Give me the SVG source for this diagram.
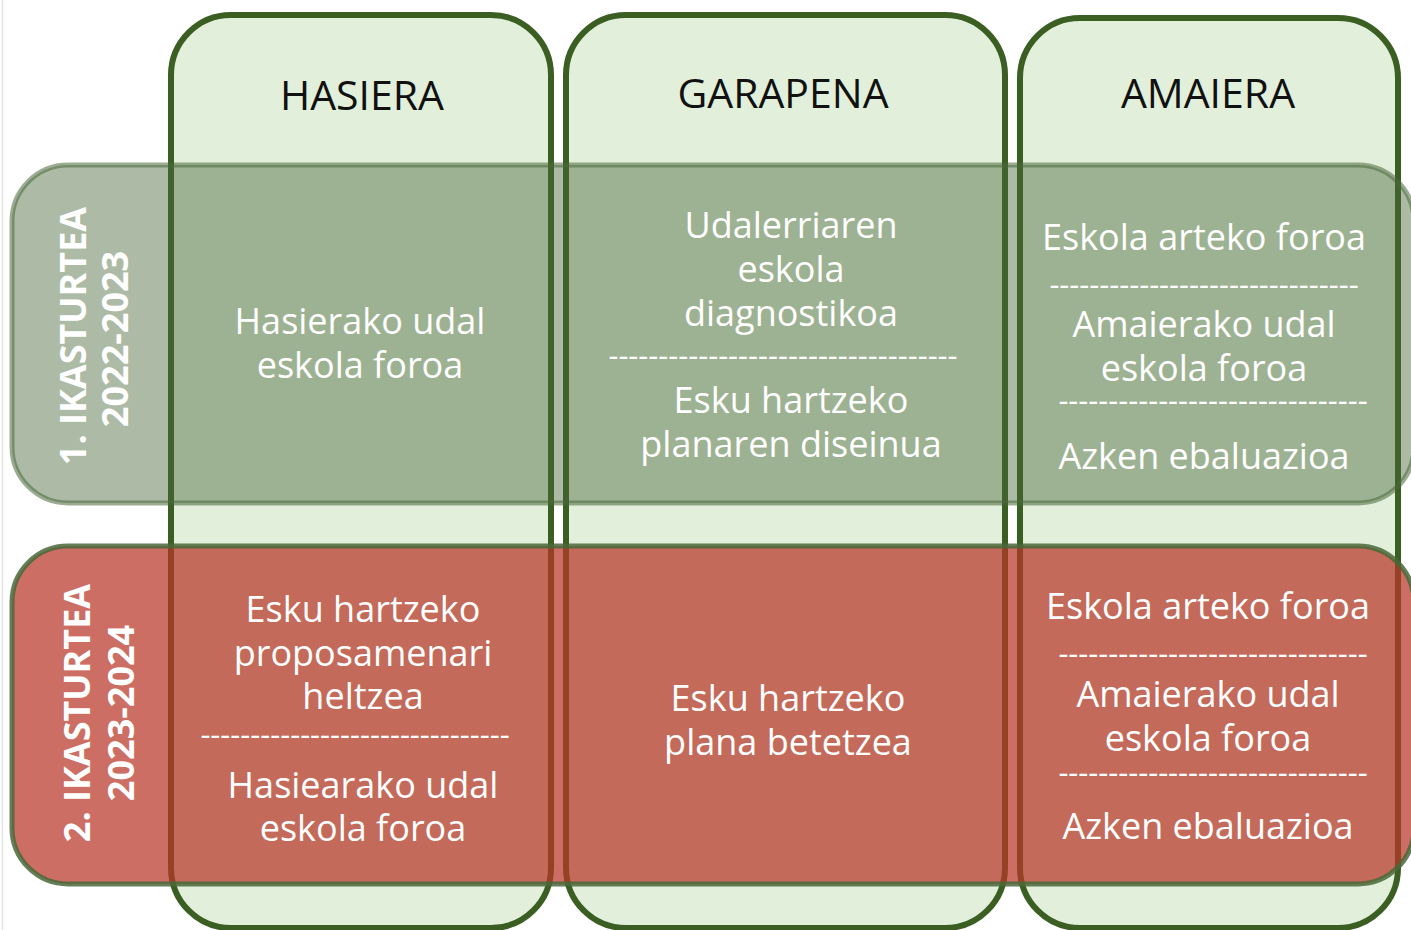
<svg xmlns="http://www.w3.org/2000/svg" width="1411" height="930" viewBox="0 0 1411 930">
  <style>
    .col { fill: #e2efda; stroke: #3b5e23; stroke-width: 6; }
    .row1 { fill: rgb(73,104,58); fill-opacity: 0.45; stroke: rgb(73,104,58); stroke-opacity: 0.55; stroke-width: 5; }
    .row2 { fill: rgb(185,54,40); fill-opacity: 0.72; stroke: rgb(73,104,58); stroke-opacity: 0.85; stroke-width: 5; }
    .hdr { font-family: "Open Sans", "Liberation Sans", sans-serif; font-size: 41px; fill: #111; text-anchor: middle; }
    .t { font-family: "Open Sans", "Liberation Sans", sans-serif; font-size: 36px; fill: #ffffff; text-anchor: middle; }
    .d { font-family: "Open Sans", "Liberation Sans", sans-serif; font-size: 31px; fill: #ffffff; text-anchor: middle; }
    .lbl { font-family: "Open Sans", "Liberation Sans", sans-serif; font-size: 36px; font-weight: bold; fill: #ffffff; text-anchor: middle; }
  </style>
  <rect x="0" y="0" width="1411" height="930" fill="#ffffff"/>
  <line x1="2.5" y1="0" x2="2.5" y2="930" stroke="#e4e4e4" stroke-width="1.5"/>

  <g id="col-hasiera">
    <rect class="col" x="171" y="15" width="380" height="913" rx="60"/>
    <text class="hdr" x="362" y="110">HASIERA</text>
  </g>
  <g id="col-garapena">
    <rect class="col" x="566" y="15" width="439" height="913" rx="60"/>
    <text class="hdr" x="783" y="108">GARAPENA</text>
  </g>
  <g id="col-amaiera">
    <rect class="col" x="1020" y="18" width="378" height="910" rx="60"/>
    <text class="hdr" x="1208" y="108">AMAIERA</text>
  </g>

  <g id="row-1">
    <rect class="row1" x="12" y="165" width="1402" height="338" rx="56"/>
    <text class="lbl" transform="translate(86,336) rotate(-90)" x="0" y="0">1. IKASTURTEA</text>
    <text class="lbl" transform="translate(128,339) rotate(-90)" x="0" y="0">2022-2023</text>
  </g>
  <g id="row-2">
    <rect class="row2" x="12" y="546" width="1402" height="338" rx="56"/>
    <text class="lbl" transform="translate(90,713) rotate(-90)" x="0" y="0">2. IKASTURTEA</text>
    <text class="lbl" transform="translate(134,713) rotate(-90)" x="0" y="0">2023-2024</text>
  </g>

  <g id="cell-r1-hasiera">
    <text class="t" x="360" y="334">Hasierako udal</text>
    <text class="t" x="360" y="378">eskola foroa</text>
  </g>
  <g id="cell-r1-garapena">
    <text class="t" x="791" y="238">Udalerriaren</text>
    <text class="t" x="791" y="282">eskola</text>
    <text class="t" x="791" y="326">diagnostikoa</text>
    <text class="d" x="783" y="366">-----------------------------------</text>
    <text class="t" x="791" y="413">Esku hartzeko</text>
    <text class="t" x="791" y="457">planaren diseinua</text>
  </g>
  <g id="cell-r1-amaiera">
    <text class="t" x="1204" y="250">Eskola arteko foroa</text>
    <text class="d" x="1204" y="295">-------------------------------</text>
    <text class="t" x="1204" y="337">Amaierako udal</text>
    <text class="t" x="1204" y="381">eskola foroa</text>
    <text class="d" x="1213" y="411">-------------------------------</text>
    <text class="t" x="1204" y="469">Azken ebaluazioa</text>
  </g>

  <g id="cell-r2-hasiera">
    <text class="t" x="363" y="622">Esku hartzeko</text>
    <text class="t" x="363" y="666">proposamenari</text>
    <text class="t" x="363" y="709">heltzea</text>
    <text class="d" x="355" y="745">-------------------------------</text>
    <text class="t" x="363" y="798">Hasiearako udal</text>
    <text class="t" x="363" y="841">eskola foroa</text>
  </g>
  <g id="cell-r2-garapena">
    <text class="t" x="788" y="711">Esku hartzeko</text>
    <text class="t" x="788" y="755">plana betetzea</text>
  </g>
  <g id="cell-r2-amaiera">
    <text class="t" x="1208" y="619">Eskola arteko foroa</text>
    <text class="d" x="1213" y="664">-------------------------------</text>
    <text class="t" x="1208" y="707">Amaierako udal</text>
    <text class="t" x="1208" y="751">eskola foroa</text>
    <text class="d" x="1213" y="783">-------------------------------</text>
    <text class="t" x="1208" y="839">Azken ebaluazioa</text>
  </g>

  <g id="connectors"></g>
</svg>
